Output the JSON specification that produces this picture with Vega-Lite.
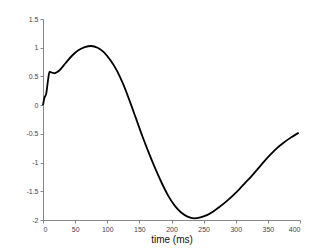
{
  "$schema": "https://vega.github.io/schema/vega-lite/v6.json",
  "width": 257,
  "height": 201,
  "autosize": {"type": "none"},
  "padding": {"left": 43, "top": 19, "right": 32, "bottom": 29},
  "background": "white",
  "config": {
    "view": {"stroke": null},
    "axis": {
      "domainColor": "#888888",
      "tickColor": "#888888",
      "labelColor": "#444444",
      "labelFont": "Liberation Sans",
      "labelFontSize": 7,
      "titleFont": "Liberation Sans",
      "titleFontWeight": "normal",
      "titleFontSize": 10,
      "titleColor": "#111111",
      "grid": false,
      "tickSize": 3,
      "labelPadding": 2
    }
  },
  "data": {
    "values": [
      {"t": 0, "v": 0},
      {"t": 2, "v": 0.12},
      {"t": 5, "v": 0.2},
      {"t": 8, "v": 0.45},
      {"t": 10, "v": 0.58},
      {"t": 13, "v": 0.57},
      {"t": 18, "v": 0.555},
      {"t": 25, "v": 0.6},
      {"t": 35, "v": 0.73},
      {"t": 45, "v": 0.86},
      {"t": 55, "v": 0.955},
      {"t": 65, "v": 1.01},
      {"t": 75, "v": 1.03},
      {"t": 85, "v": 1.0},
      {"t": 95, "v": 0.92},
      {"t": 105, "v": 0.78},
      {"t": 115, "v": 0.6},
      {"t": 125, "v": 0.36},
      {"t": 135, "v": 0.07},
      {"t": 145, "v": -0.24},
      {"t": 155, "v": -0.55},
      {"t": 165, "v": -0.84},
      {"t": 175, "v": -1.11},
      {"t": 185, "v": -1.36},
      {"t": 195, "v": -1.58},
      {"t": 205, "v": -1.75},
      {"t": 215, "v": -1.87},
      {"t": 225, "v": -1.94},
      {"t": 235, "v": -1.97},
      {"t": 245, "v": -1.955},
      {"t": 255, "v": -1.915},
      {"t": 265, "v": -1.85},
      {"t": 275, "v": -1.77},
      {"t": 285, "v": -1.68},
      {"t": 295, "v": -1.58},
      {"t": 305, "v": -1.47},
      {"t": 315, "v": -1.35},
      {"t": 325, "v": -1.23},
      {"t": 335, "v": -1.1},
      {"t": 345, "v": -0.97},
      {"t": 355, "v": -0.85},
      {"t": 365, "v": -0.74},
      {"t": 375, "v": -0.65},
      {"t": 385, "v": -0.57},
      {"t": 395, "v": -0.5},
      {"t": 398, "v": -0.48}
    ]
  },
  "mark": {"type": "line", "color": "black", "strokeWidth": 1.8, "interpolate": "monotone"},
  "encoding": {
    "x": {
      "field": "t", "type": "quantitative",
      "scale": {"domain": [0, 400], "nice": false, "zero": false},
      "axis": {"values": [0, 50, 100, 150, 200, 250, 300, 350, 400], "title": "time (ms)", "titlePadding": 2}
    },
    "y": {
      "field": "v", "type": "quantitative",
      "scale": {"domain": [-2, 1.5], "nice": false, "zero": false},
      "axis": {"values": [-2, -1.5, -1, -0.5, 0, 0.5, 1, 1.5], "title": null, "format": "~g", "labelExpr": "replace(datum.label, '−', '-')"}
    }
  }
}
